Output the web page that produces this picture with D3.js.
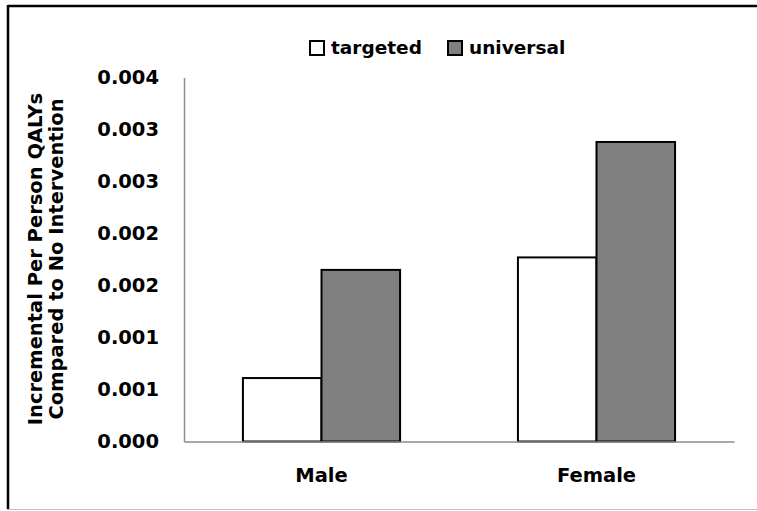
<!DOCTYPE html>
<html>
<head>
<meta charset="utf-8">
<script src="https://cdn.jsdelivr.net/npm/d3@7"></script>
<style>
  html, body { margin: 0; padding: 0; background: #fff; }
  svg { display: block; }
  text { font-family: "DejaVu Sans", "Noto Sans", sans-serif; font-weight: 700; fill: #000; }
</style>
</head>
<body>
<svg id="chart" width="757" height="511"></svg>
<script>
// Incremental per-person QALYs versus no intervention, by sex
const categories = ["Male", "Female"];
const seriesNames = ["targeted", "universal"];
const targeted = [0.00061, 0.00177];
const universal = [0.00165, 0.00288];
const tickValues = [0, 0.0005, 0.001, 0.0015, 0.002, 0.0025, 0.003, 0.0035];
const tickLabels = ["0.000", "0.001", "0.001", "0.002", "0.002", "0.003", "0.003", "0.004"];
const yTitle = ["Incremental Per Person QALYs", "Compared to No Intervention"];

const seriesFill = { targeted: "#ffffff", universal: "#808080" };
const seriesValues = { targeted, universal };

const svg = d3.select("#chart");
const W = 757, H = 511;
const plot = { left: 184, right: 734, top: 77.5, bottom: 441.5 };
const fontPx = "19.5px";

// outer chart frame
svg.append("line").attr("x1", 8).attr("x2", W).attr("y1", 6).attr("y2", 6)
  .attr("stroke", "#000").attr("stroke-width", 2.5);
svg.append("line").attr("x1", 8).attr("x2", 8).attr("y1", 5).attr("y2", 509)
  .attr("stroke", "#000").attr("stroke-width", 2.5);
svg.append("line").attr("x1", 7).attr("x2", W).attr("y1", 509.5).attr("y2", 509.5)
  .attr("stroke", "#bdbdbd").attr("stroke-width", 1);

const y = d3.scaleLinear().domain([0, 0.0035]).range([plot.bottom, plot.top]);
const x0 = d3.scaleBand().domain(categories).range([plot.left, plot.right])
  .paddingInner(1.5 / 3.5).paddingOuter(0.75 / 3.5);
const x1 = d3.scaleBand().domain(seriesNames).range([0, x0.bandwidth()]).padding(0);

// bars
const groups = svg.append("g").selectAll("g")
  .data(categories)
  .join("g")
  .attr("transform", d => `translate(${x0(d)},0)`);

groups.selectAll("rect")
  .data((c, i) => seriesNames.map(s => ({ s, v: seriesValues[s][i] })))
  .join("rect")
  .attr("x", d => x1(d.s))
  .attr("y", d => y(d.v))
  .attr("width", x1.bandwidth())
  .attr("height", d => y(0) - y(d.v))
  .attr("fill", d => seriesFill[d.s])
  .attr("stroke", "#000")
  .attr("stroke-width", 2);

// y axis
const yAxis = d3.axisLeft(y).tickValues(tickValues)
  .tickFormat((d, i) => tickLabels[i]).tickSize(0).tickPadding(25);
const gy = svg.append("g").attr("transform", `translate(${plot.left},0)`).call(yAxis);
gy.select(".domain").attr("stroke", "#8c8c8c").attr("stroke-width", 1.5);
gy.selectAll("text").style("font-size", fontPx).attr("fill", "#000");

// x axis
const xAxis = d3.axisBottom(x0).tickSize(0).tickPadding(27);
const gx = svg.append("g").attr("transform", `translate(0,${plot.bottom})`).call(xAxis);
gx.select(".domain").attr("stroke", "#8c8c8c").attr("stroke-width", 1.5);
gx.selectAll("text").style("font-size", fontPx).attr("fill", "#000");

// y axis title
const title = svg.append("text")
  .attr("transform", `translate(0,259) rotate(-90)`)
  .attr("text-anchor", "middle")
  .style("font-size", fontPx);
title.selectAll("tspan").data(yTitle).join("tspan")
  .attr("x", 0)
  .attr("y", (d, i) => 42 + i * 21)
  .text(d => d);

// legend
const legendItems = [
  { name: "targeted", x: 309 },
  { name: "universal", x: 447 }
];
const lg = svg.append("g").selectAll("g").data(legendItems).join("g")
  .attr("transform", d => `translate(${d.x},41)`);
lg.append("rect").attr("x", 1).attr("y", 0).attr("width", 14).attr("height", 14)
  .attr("fill", d => seriesFill[d.name]).attr("stroke", "#000").attr("stroke-width", 2);
lg.append("text").attr("x", 22).attr("y", 7).attr("dy", "0.35em")
  .style("font-size", "18.5px").text(d => d.name);
</script>
</body>
</html>
